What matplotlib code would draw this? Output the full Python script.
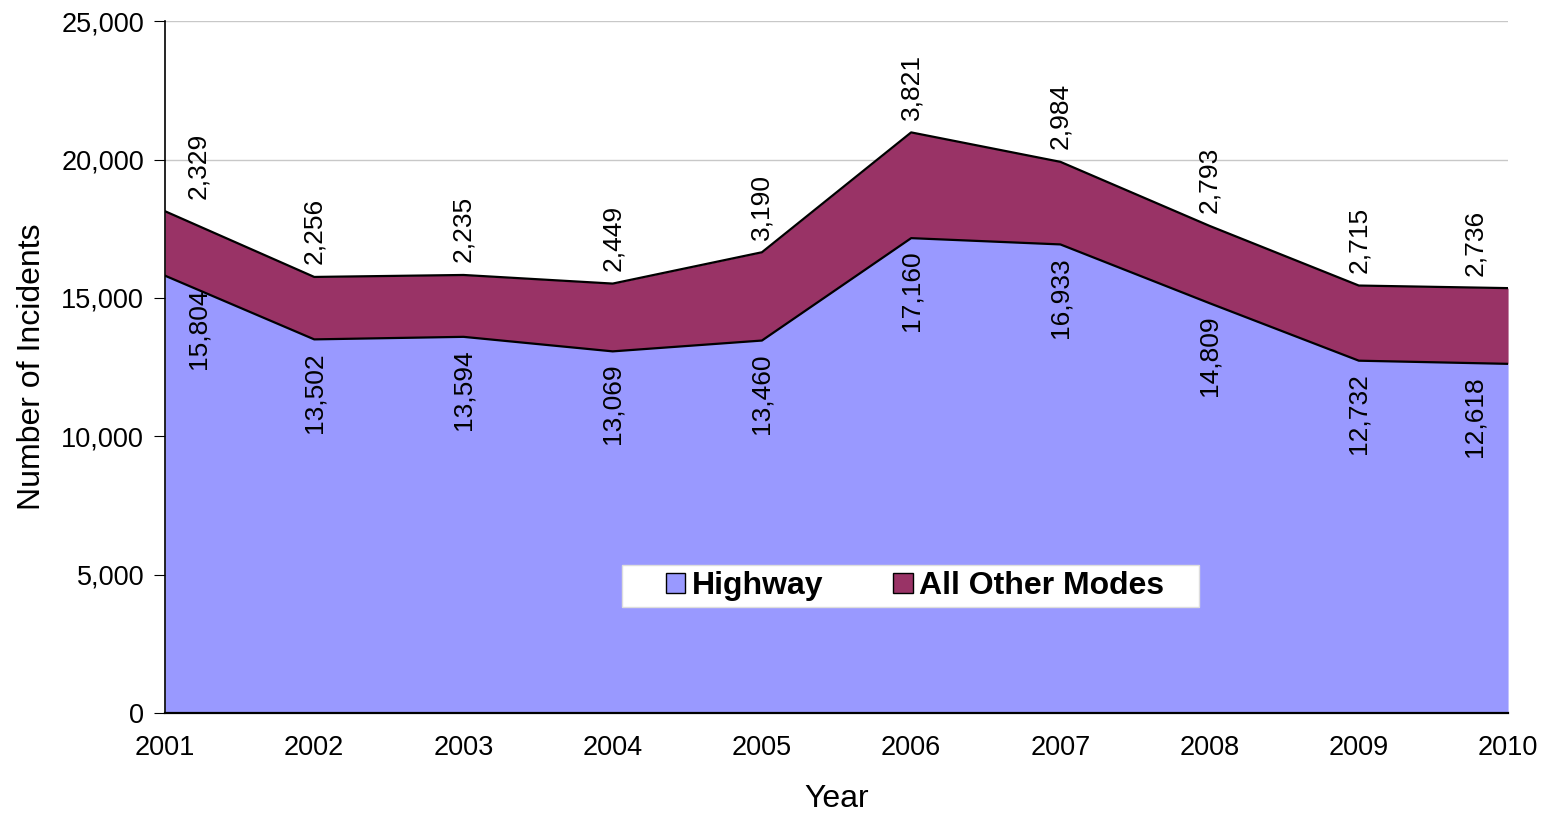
import matplotlib.pyplot as plt
from matplotlib.patches import Patch, Rectangle
from matplotlib.ticker import FuncFormatter

plt.rcParams['font.family'] = ['Liberation Sans', 'DejaVu Sans']

# Datos
years = [2001, 2002, 2003, 2004, 2005, 2006, 2007, 2008, 2009, 2010]
highway = [15804, 13502, 13594, 13069, 13460, 17160, 16933, 14809, 12732, 12618]
other_modes = [2329, 2256, 2235, 2449, 3190, 3821, 2984, 2793, 2715, 2736]

col_highway = '#9999FF'
col_other = '#993366'

fig = plt.figure(figsize=(15.45, 8.14), dpi=100)
ax = fig.add_axes([0.1068, 0.124, 0.8693, 0.850])

total = [h + o for h, o in zip(highway, other_modes)]

ax.fill_between(years, 0, highway, color=col_highway, zorder=2, linewidth=0)
ax.fill_between(years, highway, total, color=col_other, zorder=2, linewidth=0)
ax.plot(years, highway, color='black', lw=1.6, zorder=3)
ax.plot(years, total, color='black', lw=1.6, zorder=3)

# etiquetas de datos
n = len(years)
for i, (x, h, t, o) in enumerate(zip(years, highway, total, other_modes)):
    dx = 0
    if i == 0:
        dx = 24
    elif i == n - 1:
        dx = -24
    ax.annotate(f"{h:,}", (x, h), xytext=(dx, -9), textcoords='offset points',
                rotation=90, ha='center', va='top', fontsize=19, zorder=4)
    ax.annotate(f"{o:,}", (x, t), xytext=(dx, 9), textcoords='offset points',
                rotation=90, ha='center', va='bottom', fontsize=19, zorder=4)

ax.set_xlim(2001, 2010)
ax.set_ylim(0, 25000)
ax.set_xticks(years)
ax.set_yticks(range(0, 25001, 5000))
ax.yaxis.set_major_formatter(FuncFormatter(lambda v, p: f"{int(v):,}"))
ax.tick_params(axis='both', labelsize=19.5, direction='out')
ax.tick_params(axis='x', length=0, pad=16)
ax.tick_params(axis='y', length=8, pad=7)

ax.grid(True, axis='y', color='#C8C8C8', lw=1, zorder=0)
ax.set_axisbelow(True)
for s in ['top', 'right']:
    ax.spines[s].set_visible(False)
ax.spines['left'].set_linewidth(1.2)
ax.spines['bottom'].set_linewidth(1.6)
ax.spines['bottom'].set_zorder(5)

ax.set_xlabel("Year", fontsize=23, labelpad=16)
ax.set_ylabel("Number of Incidents", fontsize=23, labelpad=10)

# caja blanca de la leyenda
ax.add_patch(Rectangle((0.3403, 0.1532), 0.4297, 0.0607, transform=ax.transAxes,
                       facecolor='white', edgecolor='#DDDDDD', lw=1, zorder=5))
handles = [Patch(facecolor=col_highway, edgecolor='black', label='Highway'),
           Patch(facecolor=col_other, edgecolor='black', label='All Other Modes')]
leg = ax.legend(handles=handles, ncol=2, loc='center', bbox_to_anchor=(0.5585, 0.1835),
                prop={'size': 23, 'weight': 'bold'}, frameon=False,
                handlelength=0.6, handleheight=0.6,
                handletextpad=0.2, columnspacing=2.2, borderpad=0.2,
                borderaxespad=0)
leg.set_zorder(6)

fig.savefig('out.png', dpi=100)
